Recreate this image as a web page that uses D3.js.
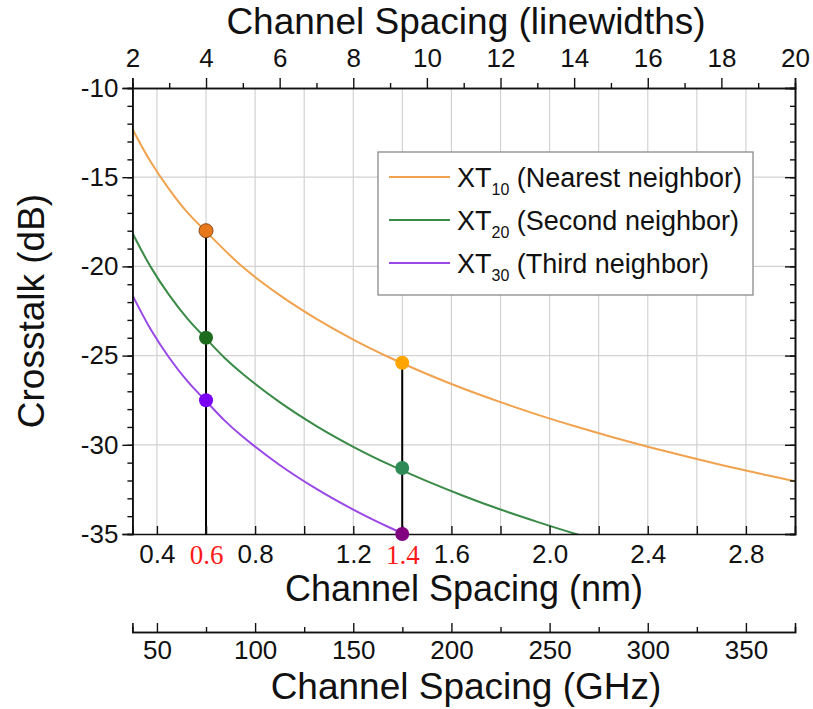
<!DOCTYPE html>
<html>
<head>
<meta charset="utf-8">
<script src="https://cdn.jsdelivr.net/npm/d3@7"></script>
<style>
  html, body { margin: 0; padding: 0; background: #fff; }
  svg { display: block; font-family: "Liberation Sans", Arial, sans-serif; }
</style>
</head>
<body>
<svg id="chart" width="813" height="709"></svg>
<script>
// ---------------- data ----------------
const linewidths10 = [2, 2.5, 3, 3.5, 4, 5, 6, 7, 8, 9, 10, 11, 12, 13, 14, 15, 16, 17, 18, 19, 20];
const xt10 = [-12.30, -14.15, -15.68, -16.99, -18.05, -20.04, -21.61, -22.94, -24.10, -25.12, -26.03, -26.86, -27.61, -28.31, -28.95, -29.55, -30.11, -30.63, -31.13, -31.60, -32.04];
const linewidths20 = [2, 2.5, 3, 3.5, 4, 4.5, 5, 6, 7, 8, 9, 10, 11, 12, 13, 14, 15];
const xt20 = [-18.13, -20.04, -21.61, -22.94, -24.05, -25.12, -26.03, -27.61, -28.95, -30.11, -31.13, -32.04, -32.87, -33.63, -34.32, -34.97, -35.56];
const linewidths30 = [2, 2.5, 3, 3.5, 4, 4.5, 5, 6, 7, 8, 9, 10];
const xt30 = [-21.61, -23.54, -25.12, -26.45, -27.55, -28.63, -29.55, -31.13, -32.47, -33.63, -34.65, -35.56];

const markerLinewidths = [4, 9.33];
const markerXT10 = [-18.0, -25.4];
const markerXT20 = [-24.0, -31.3];
const markerXT30 = [-27.5, -35.0];
const markerColors10 = ["#e8781c", "#ffa500"];
const markerColors20 = ["#1d6b1d", "#2e8b57"];
const markerColors30 = ["#7a00f5", "#800080"];

const seriesNames = ["10", "20", "30"];
const seriesLabels = ["(Nearest neighbor)", "(Second neighbor)", "(Third neighbor)"];
const seriesColors = ["#f0a24e", "#3a8a48", "#9a48e6"];

const topTicks = [2, 4, 6, 8, 10, 12, 14, 16, 18, 20];
const nmTicks = [0.4, 0.6, 0.8, 1.0, 1.2, 1.4, 1.6, 1.8, 2.0, 2.2, 2.4, 2.6, 2.8];
const nmLabelTicks = [0.4, 0.8, 1.2, 1.6, 2.0, 2.4, 2.8];
const nmHighlight = [0.6, 1.4];
const ghzTicks = [50, 100, 150, 200, 250, 300, 350];
const yTicks = [-35, -30, -25, -20, -15, -10];

// ---------------- layout ----------------
const L = 132.4, R = 795, T = 88, B = 534;
const GHZ_Y = 632;
const svg = d3.select("#chart");

const xLw = d3.scaleLinear().domain([2, 20]).range([L, R]);
const xNm = d3.scaleLinear().domain([0.3, 3.0]).range([L, R]);
const xGhz = d3.scaleLinear().domain([37.5, 375]).range([L, R]);
const y = d3.scaleLinear().domain([-35, -10]).range([B, T]);
const near = (arr, d) => arr.some(v => Math.abs(v - d) < 1e-9);

// grid
const grid = svg.append("g");
grid.selectAll("line.v").data(nmTicks).join("line")
  .attr("x1", d => xNm(d)).attr("x2", d => xNm(d)).attr("y1", T).attr("y2", B)
  .attr("stroke", "#d2d2d2").attr("stroke-width", 1.2);
grid.selectAll("line.h").data(yTicks.slice(1, -1)).join("line")
  .attr("x1", L).attr("x2", R).attr("y1", d => y(d)).attr("y2", d => y(d))
  .attr("stroke", "#d2d2d2").attr("stroke-width", 1.2);

// clip
svg.append("clipPath").attr("id", "clip").append("rect")
  .attr("x", L).attr("y", T).attr("width", R - L).attr("height", B - T);

const line = d3.line().x(d => xLw(d[0])).y(d => y(d[1])).curve(d3.curveCatmullRom.alpha(0.5));
const curves = [
  d3.zip(linewidths10, xt10),
  d3.zip(linewidths20, xt20),
  d3.zip(linewidths30, xt30)
];
svg.append("g").attr("clip-path", "url(#clip)")
  .selectAll("path").data(curves).join("path")
  .attr("d", line).attr("fill", "none")
  .attr("stroke", (d, i) => seriesColors[i]).attr("stroke-width", 2);

// vertical marker lines
svg.append("g").selectAll("line").data(markerLinewidths).join("line")
  .attr("x1", d => xLw(d)).attr("x2", d => xLw(d))
  .attr("y1", (d, i) => y(markerXT10[i])).attr("y2", B)
  .attr("stroke", "#000").attr("stroke-width", 2);

// axes
const fs = 26;
function styleAxis(g) {
  g.select(".domain").attr("stroke", "#111").attr("stroke-width", 1.6);
  g.selectAll(".tick line").attr("stroke", "#111").attr("stroke-width", 1.4);
  g.selectAll(".tick text").attr("font-size", fs).attr("fill", "#111")
    .attr("font-family", "'Liberation Sans', Arial, sans-serif");
  g.selectAll(".tick text").filter(function () { return this.textContent === ""; }).remove();
}
const plain = d => String(d);

// left
svg.append("g").attr("transform", `translate(${L},0)`)
  .call(d3.axisLeft(y).tickValues(d3.range(-35, -9, 1)).tickSize(5).tickFormat(""))
  .call(styleAxis);
svg.append("g").attr("transform", `translate(${L},0)`)
  .call(d3.axisLeft(y).tickValues(yTicks).tickSize(10).tickPadding(4).tickFormat(plain))
  .call(styleAxis);
// right
svg.append("g").attr("transform", `translate(${R},0)`)
  .call(d3.axisRight(y).tickValues(d3.range(-35, -9, 1)).tickSize(-5).tickFormat(""))
  .call(styleAxis);
svg.append("g").attr("transform", `translate(${R},0)`)
  .call(d3.axisRight(y).tickValues(yTicks).tickSize(-10).tickFormat(""))
  .call(styleAxis);
// top (linewidths)
svg.append("g").attr("transform", `translate(0,${T})`)
  .call(d3.axisTop(xLw).tickValues(d3.range(3, 20, 2)).tickSize(5).tickFormat(""))
  .call(styleAxis);
svg.append("g").attr("transform", `translate(0,${T})`)
  .call(d3.axisTop(xLw).tickValues(topTicks).tickSize(10).tickPadding(11).tickFormat(plain))
  .call(styleAxis);
// bottom (nm)
const fmt1 = d3.format(".1f");
const nmAxis = svg.append("g").attr("transform", `translate(0,${B})`)
  .call(d3.axisBottom(xNm).tickValues(nmTicks).tickSize(-8).tickPadding(11)
    .tickFormat(d => (near(nmLabelTicks, d) || near(nmHighlight, d)) ? fmt1(d) : ""))
  .call(styleAxis);
nmAxis.selectAll(".tick text")
  .filter(d => near(nmHighlight, d))
  .attr("fill", "#ff1a1a").attr("font-family", "'Liberation Serif', 'Times New Roman', serif").attr("font-size", 27);
// GHz
svg.append("g").attr("transform", `translate(0,${GHZ_Y})`)
  .call(d3.axisBottom(xGhz).tickValues(d3.range(75, 375, 50)).tickSize(-5).tickFormat(""))
  .call(styleAxis);
svg.append("g").attr("transform", `translate(0,${GHZ_Y})`)
  .call(d3.axisBottom(xGhz).tickValues(ghzTicks).tickSize(-9).tickPadding(9).tickFormat(plain))
  .call(styleAxis);

// markers
const markerData = [];
markerLinewidths.forEach((lw, i) => {
  markerData.push({x: lw, v: markerXT10[i], c: markerColors10[i], s: i === 0 ? "#8a4a1a" : "none"});
  markerData.push({x: lw, v: markerXT20[i], c: markerColors20[i], s: "none"});
  markerData.push({x: lw, v: markerXT30[i], c: markerColors30[i], s: "none"});
});
svg.append("g").selectAll("circle").data(markerData).join("circle")
  .attr("cx", d => xLw(d.x)).attr("cy", d => y(d.v)).attr("r", 7)
  .attr("fill", d => d.c).attr("stroke", d => d.s).attr("stroke-width", 1);

// legend
const lg = svg.append("g");
lg.append("rect").attr("x", 378).attr("y", 152).attr("width", 375).attr("height", 143)
  .attr("fill", "#fff").attr("stroke", "#8a8a8a").attr("stroke-width", 1.3);
seriesNames.forEach((n, i) => {
  const ry = 177 + i * 43;
  lg.append("line").attr("x1", 389).attr("x2", 450).attr("y1", ry).attr("y2", ry)
    .attr("stroke", seriesColors[i]).attr("stroke-width", 2);
  const t = lg.append("text").attr("x", 457).attr("y", ry + 10).attr("font-size", 27).attr("fill", "#111");
  t.append("tspan").text("XT");
  t.append("tspan").attr("font-size", 16).attr("dy", 8).text(n);
  t.append("tspan").attr("dy", -8).text(" " + seriesLabels[i]);
});

// titles
const tfs = 37;
svg.append("text").attr("x", 466).attr("y", 34).attr("text-anchor", "middle")
  .attr("font-size", tfs).attr("fill", "#111").text("Channel Spacing (linewidths)");
svg.append("text").attr("transform", "translate(44,311) rotate(-90)").attr("text-anchor", "middle")
  .attr("font-size", tfs).attr("fill", "#111").text("Crosstalk (dB)");
svg.append("text").attr("x", 464).attr("y", 601).attr("text-anchor", "middle")
  .attr("font-size", 36).attr("fill", "#111").text("Channel Spacing (nm)");
svg.append("text").attr("x", 466).attr("y", 699).attr("text-anchor", "middle")
  .attr("font-size", tfs).attr("fill", "#111").text("Channel Spacing (GHz)");
</script>
</body>
</html>
